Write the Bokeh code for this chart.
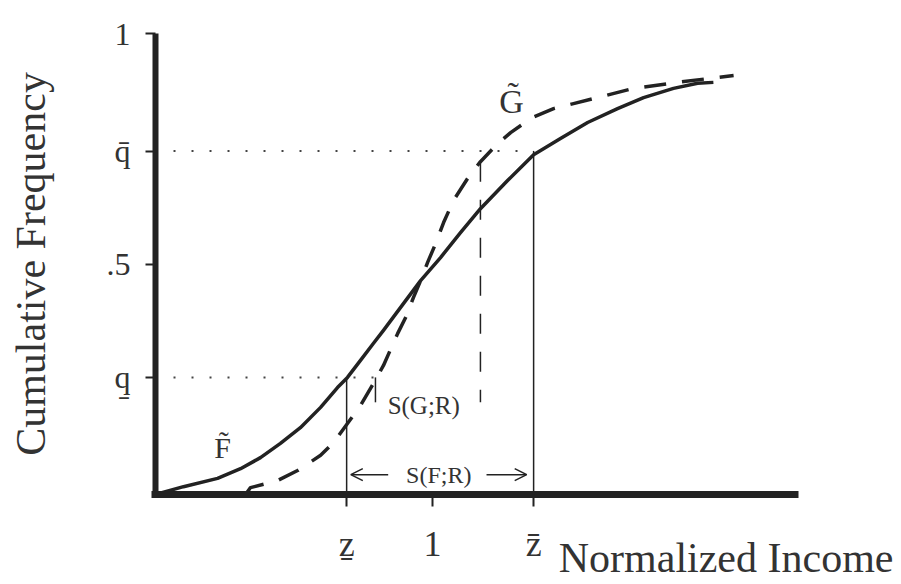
import numpy as np
from bokeh.plotting import figure
from bokeh.models import Range1d, FixedTicker, Label, Arrow, OpenHead
from bokeh.embed import file_html
from bokeh.resources import INLINE

# ---------------- data ----------------
F_x = [0.000, 0.101, 0.224, 0.307, 0.379, 0.451, 0.523, 0.596, 0.657, 0.693, 0.740,
       0.787, 0.823, 0.895, 0.957, 1.029, 1.101, 1.173, 1.271, 1.365, 1.462, 1.560,
       1.668, 1.762, 1.870, 1.957, 2.014]
F_y = [0.000, 0.017, 0.035, 0.056, 0.080, 0.111, 0.145, 0.189, 0.232, 0.254, 0.291,
       0.328, 0.356, 0.414, 0.464, 0.514, 0.568, 0.620, 0.681, 0.737, 0.772, 0.807,
       0.837, 0.861, 0.881, 0.892, 0.894]

G_x = [0.325, 0.343, 0.440, 0.513, 0.596, 0.643, 0.693, 0.740, 0.787, 0.823, 0.874,
       0.903, 0.931, 0.957, 0.982, 1.011, 1.040, 1.076, 1.126, 1.173, 1.235, 1.282,
       1.361, 1.437, 1.509, 1.596, 1.726, 1.884, 2.087]
G_y = [0.000, 0.015, 0.030, 0.052, 0.085, 0.113, 0.154, 0.193, 0.241, 0.280, 0.349,
       0.384, 0.427, 0.464, 0.503, 0.544, 0.590, 0.638, 0.685, 0.722, 0.761, 0.785,
       0.818, 0.837, 0.848, 0.861, 0.881, 0.894, 0.909]

q_low, q_high = 0.254, 0.745
z_low, z_high = 0.69, 1.365
zG_low, zG_high = 0.794, 1.173
sG_bottom = 0.2

y_ticks = [q_low, 0.5, q_high, 1.0]
y_tick_labels = ["q\u0331", ".5", "q\u0304", "1"]
x_ticks = [z_low, 1.0, z_high]
x_tick_labels = ["z\u0331", "1", "z\u0304"]

x_title = "Normalized Income"
y_title = "Cumulative Frequency"
F_name = "F\u0303"
G_name = "G\u0303"
SF_name = "S(F;R)"
SG_name = "S(G;R)"

# ---------------- styling ----------------
FONT = "Liberation Serif"
INK = "#222222"
TXT = "#333333"

p = figure(width=901, height=584,
           x_range=Range1d(-0.5596, 2.6931), y_range=Range1d(-0.1952, 1.0716),
           output_backend="svg", toolbar_location=None,
           min_border=0, min_border_left=0, min_border_right=0,
           min_border_top=0, min_border_bottom=0)
p.outline_line_color = None
p.grid.visible = False
p.background_fill_color = "white"
p.border_fill_color = "white"

# axes (placed at the data origin)
p.xaxis.fixed_location = 0
p.xaxis.bounds = (-0.015, 2.32)
p.xaxis.ticker = FixedTicker(ticks=x_ticks)
p.xaxis.major_label_overrides = dict(zip(x_ticks, x_tick_labels))
p.xaxis.axis_line_width = 7
p.xaxis.axis_line_color = INK
p.xaxis.major_tick_out = 12
p.xaxis.major_tick_in = 0
p.xaxis.major_tick_line_width = 2
p.xaxis.major_tick_line_color = INK
p.xaxis.minor_tick_line_color = None
p.xaxis.major_label_text_font = FONT
p.xaxis.major_label_text_font_size = "36px"
p.xaxis.major_label_text_color = TXT
p.xaxis.major_label_standoff = 17

p.yaxis.fixed_location = 0
p.yaxis.bounds = (0, 1.0)
p.yaxis.ticker = FixedTicker(ticks=y_ticks)
p.yaxis.major_label_overrides = dict(zip(y_ticks, y_tick_labels))
p.yaxis.axis_line_width = 6
p.yaxis.axis_line_color = INK
p.yaxis.major_tick_out = 10
p.yaxis.major_tick_in = 0
p.yaxis.major_tick_line_width = 2
p.yaxis.major_tick_line_color = INK
p.yaxis.minor_tick_line_color = None
p.yaxis.major_label_text_font = FONT
p.yaxis.major_label_text_font_size = "32px"
p.yaxis.major_label_text_color = TXT
p.yaxis.major_label_standoff = 15
p.yaxis.axis_label = y_title
p.yaxis.axis_label_text_font = FONT
p.yaxis.axis_label_text_font_size = "42px"
p.yaxis.axis_label_text_font_style = "normal"
p.yaxis.axis_label_text_color = TXT
p.yaxis.axis_label_standoff = 50

# dotted guide lines
p.segment(x0=[0, 0], y0=[q_low, q_high], x1=[zG_low, z_high], y1=[q_low, q_high],
          line_dash="2 16", line_width=2, line_color="#444444")

# thin solid verticals for S(F;R)
p.segment(x0=[z_low, z_high], y0=[0, 0], x1=[z_low, z_high], y1=[q_low, q_high],
          line_width=1.5, line_color=INK)

# S(G;R) markers
p.segment(x0=[zG_low], y0=[q_low], x1=[zG_low], y1=[sG_bottom],
          line_width=1.5, line_color=INK)
gtop = float(np.interp(zG_high, G_x, G_y))
p.segment(x0=[zG_high], y0=[gtop], x1=[zG_high], y1=[sG_bottom],
          line_width=1.5, line_color=INK, line_dash="20 18")

# the two distributions
p.line(F_x, F_y, line_width=3.5, line_color=INK, line_join="round")
p.line(G_x, G_y, line_width=3.5, line_color=INK, line_dash="22 16", line_join="round")

# arrows for S(F;R)
ya = 0.043
p.add_layout(Arrow(end=OpenHead(size=12, line_width=1.5, line_color=INK),
                   x_start=z_low + 0.15, y_start=ya, x_end=z_low + 0.015, y_end=ya,
                   line_width=1.5, line_color=INK))
p.add_layout(Arrow(end=OpenHead(size=12, line_width=1.5, line_color=INK),
                   x_start=z_high - 0.17, y_start=ya, x_end=z_high - 0.025, y_end=ya,
                   line_width=1.5, line_color=INK))

def lab(x, y, t, size, align="left", baseline="alphabetic"):
    p.add_layout(Label(x=x, y=y, text=t, text_font=FONT, text_font_size=size,
                       text_color=TXT, text_align=align, text_baseline=baseline))

lab((z_low + z_high) / 2 - 0.005, ya, SF_name, "24px", "center", "middle")
lab(zG_low + 0.044, 0.192, SG_name, "25px", "left", "alphabetic")
lab(0.242, 0.102, F_name, "30px", "center", "alphabetic")
lab(1.285, 0.853, G_name, "34px", "center", "alphabetic")
lab(2.664, -0.137, x_title, "42px", "right", "alphabetic")

open("out.html", "w").write(file_html(p, INLINE))
